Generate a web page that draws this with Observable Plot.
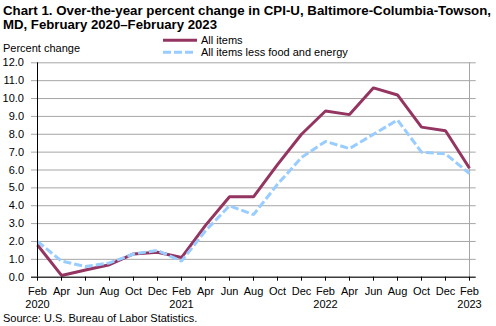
<!DOCTYPE html>
<html><head><meta charset="utf-8">
<script src="https://cdn.jsdelivr.net/npm/d3@7"></script>
<script src="https://cdn.jsdelivr.net/npm/@observablehq/plot@0.6"></script>
<style>
body{margin:0;background:#fff;}
#chart svg{display:block;}
</style>
</head><body><div id="chart"></div>
<script>
const periods = ["Feb 2020","Apr 2020","Jun 2020","Aug 2020","Oct 2020","Dec 2020",
  "Feb 2021","Apr 2021","Jun 2021","Aug 2021","Oct 2021","Dec 2021",
  "Feb 2022","Apr 2022","Jun 2022","Aug 2022","Oct 2022","Dec 2022","Feb 2023"];
const allItems = [1.8, 0.1, 0.4, 0.7, 1.3, 1.4, 1.1, 2.9, 4.5, 4.5, 6.3, 8.0, 9.3, 9.1, 10.6, 10.2, 8.4, 8.2, 6.1];
const coreItems = [2.0, 0.9, 0.6, 0.8, 1.3, 1.5, 0.9, 2.6, 4.0, 3.5, 5.2, 6.7, 7.6, 7.2, 8.0, 8.8, 7.0, 6.9, 5.8];
const yTicks = [0,1,2,3,4,5,6,7,8,9,10,11,12];
const seriesNames = ["All items", "All items less food and energy"];
const titleLines = ["Chart 1. Over-the-year percent change in CPI-U, Baltimore-Columbia-Towson,",
  "MD, February 2020\u2013February 2023"];
const yLabel = "Percent change";
const sourceText = "Source: U.S. Bureau of Labor Statistics.";

const FONT = '"Liberation Sans", Arial, Helvetica, sans-serif';
const MAROON = "#943461";
const LIGHTBLUE = "#99ccff";
const GRID = "#a6a6a6";
const DASH = "8,3";

const allData = periods.map((p, i) => ({period: p, value: allItems[i], series: seriesNames[0]}));
const coreData = periods.map((p, i) => ({period: p, value: coreItems[i], series: seriesNames[1]}));

const chart = Plot.plot({
  width: 496, height: 326,
  marginTop: 62.3, marginBottom: 49.3, marginLeft: 31, marginRight: 20.3,
  style: {fontFamily: FONT, fontSize: "11px", color: "#000", background: "#fff", overflow: "visible"},
  x: {type: "point", domain: periods, padding: 0},
  y: {domain: [0, 12]},
  marks: [
    Plot.gridY(yTicks, {stroke: GRID, strokeOpacity: 1, strokeWidth: 1}),
    Plot.ruleX([periods[periods.length - 1]], {stroke: GRID, strokeWidth: 1}),
    Plot.axisY(yTicks, {tickSize: 0, tickPadding: 7.5, tickFormat: d => d.toFixed(1), label: null, fill: "#000"}),
    Plot.axisX({tickSize: 4, tickPadding: 5, label: null, lineHeight: 1.18, fill: "#000", stroke: "#000",
      tickFormat: p => { const [m, y] = p.split(" "); return m === "Feb" ? m + "\n" + y : m; }}),
    Plot.lineY(allData, {x: "period", y: "value", stroke: MAROON, strokeWidth: 3, strokeLinejoin: "miter", strokeLinecap: "butt"}),
    Plot.lineY(coreData, {x: "period", y: "value", stroke: LIGHTBLUE, strokeWidth: 3, strokeDasharray: DASH,
      strokeLinecap: "butt", strokeLinejoin: "miter"}),
    Plot.ruleX([periods[0]], {stroke: "#000", strokeWidth: 1}),
    Plot.ruleY([0], {stroke: "#000", strokeWidth: 1})
  ]
});

document.getElementById("chart").appendChild(chart);

const svg = d3.select(chart);
const g = svg.append("g").attr("font-family", FONT).attr("fill", "#000").attr("text-anchor", "start");
g.append("text").attr("x", 3).attr("y", 14.8).attr("font-size", 13.2).attr("font-weight", "bold")
  .attr("textLength", 488).attr("lengthAdjust", "spacingAndGlyphs").text(titleLines[0]);
g.append("text").attr("x", 3).attr("y", 28.6).attr("font-size", 13.2).attr("font-weight", "bold")
  .attr("textLength", 214).attr("lengthAdjust", "spacingAndGlyphs").text(titleLines[1]);
g.append("text").attr("x", 3).attr("y", 51.7).attr("font-size", 11).text(yLabel);

// legend
g.append("line").attr("x1", 163).attr("x2", 197).attr("y1", 40.3).attr("y2", 40.3)
  .attr("stroke", MAROON).attr("stroke-width", 3);
g.append("text").attr("x", 201).attr("y", 44).attr("font-size", 11).text(seriesNames[0]);
g.append("line").attr("x1", 163).attr("x2", 196).attr("y1", 52.3).attr("y2", 52.3)
  .attr("stroke", LIGHTBLUE).attr("stroke-width", 3).attr("stroke-dasharray", DASH);
g.append("text").attr("x", 201).attr("y", 56).attr("font-size", 11).text(seriesNames[1]);

g.append("text").attr("x", 3).attr("y", 321.5).attr("font-size", 11).text(sourceText);
</script>
</body></html>
